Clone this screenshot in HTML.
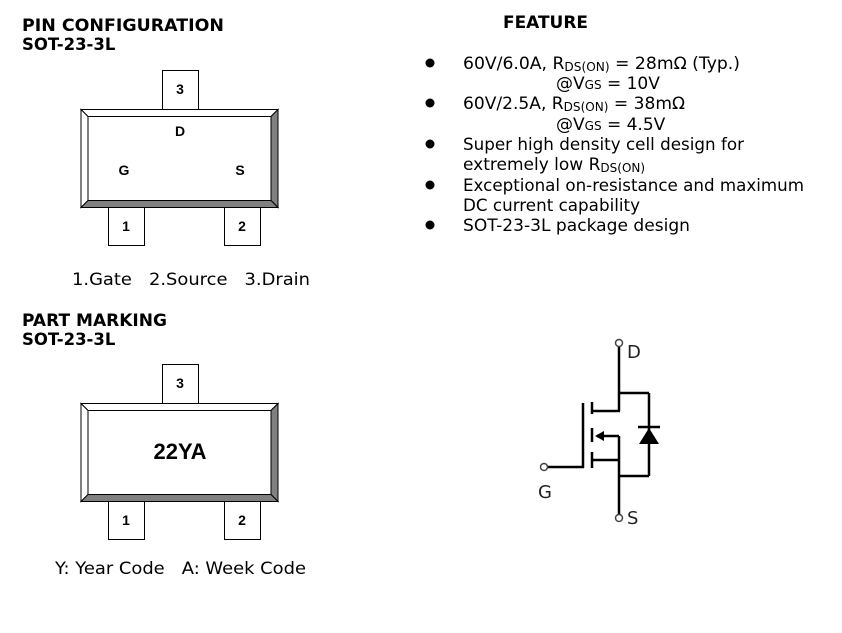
<!DOCTYPE html>
<html><head><meta charset="utf-8"><style>
html,body{margin:0;padding:0;background:#fff;width:842px;height:633px;overflow:hidden}
svg{display:block}
.h{font-family:"DejaVu Sans","Liberation Sans",sans-serif;font-weight:bold;font-size:16.5px;fill:#000}
.t{font-family:"DejaVu Sans","Liberation Sans",sans-serif;font-size:17px;fill:#000}
.a{font-family:"Liberation Sans",Arial,sans-serif;font-weight:bold;font-size:14px;fill:#000}
.sub{font-size:12px}
</style></head><body>
<svg width="842" height="633" viewBox="0 0 842 633" xmlns="http://www.w3.org/2000/svg">
<defs>
<g id="pkg">
  <rect x="162.5" y="-38.5" width="36" height="39" fill="#fff" stroke="#000"/>
  <rect x="108.5" y="98.5" width="36" height="38" fill="#fff" stroke="#000"/>
  <rect x="224.5" y="98.5" width="36" height="38" fill="#fff" stroke="#000"/>
  <polygon points="81,0.5 278,0.5 271,7.5 88,7.5" fill="#fff" stroke="#000" stroke-width="1"/>
  <polygon points="81,0.5 88,7.5 88,91.5 81,98.5" fill="#fff" stroke="#000" stroke-width="1"/>
  <polygon points="278,0.5 278,98.5 271,91.5 271,7.5" fill="#808080" stroke="#000" stroke-width="1"/>
  <polygon points="81,98.5 278,98.5 271,91.5 88,91.5" fill="#808080" stroke="#000" stroke-width="1"/>
  <rect x="88" y="7.5" width="183" height="84" fill="#fff" stroke="#000"/>
  <text class="a" x="180" y="-15" text-anchor="middle">3</text>
  <text class="a" x="126" y="122" text-anchor="middle">1</text>
  <text class="a" x="242" y="122" text-anchor="middle">2</text>
</g>
</defs>

<text class="h" x="22" y="31" textLength="202" lengthAdjust="spacingAndGlyphs">PIN CONFIGURATION</text>
<text class="h" x="22" y="50">SOT-23-3L</text>
<g transform="translate(0,109)">
  <use href="#pkg"/>
  <text class="a" x="180" y="27" text-anchor="middle">D</text>
  <text class="a" x="124" y="66" text-anchor="middle">G</text>
  <text class="a" x="240" y="66" text-anchor="middle">S</text>
</g>
<text class="t" x="72" y="285" textLength="238" lengthAdjust="spacingAndGlyphs">1.Gate&#160;&#160;&#160;2.Source&#160;&#160;&#160;3.Drain</text>

<text class="h" x="22" y="326" textLength="145" lengthAdjust="spacingAndGlyphs">PART MARKING</text>
<text class="h" x="22" y="345">SOT-23-3L</text>
<g transform="translate(0,403)">
  <use href="#pkg"/>
  <text x="180" y="56" text-anchor="middle" style="font-family:'Liberation Sans',Arial,sans-serif;font-weight:bold;font-size:22px">22YA</text>
</g>
<text class="t" x="55" y="574" textLength="251" lengthAdjust="spacingAndGlyphs">Y: Year Code&#160;&#160;&#160;A: Week Code</text>

<text class="h" x="503" y="28" textLength="85" lengthAdjust="spacingAndGlyphs">FEATURE</text>
<g fill="#000">
<circle cx="430" cy="63" r="4.5"/><circle cx="430" cy="103" r="4.5"/>
<circle cx="430" cy="144" r="4.5"/><circle cx="430" cy="185" r="4.5"/><circle cx="430" cy="225" r="4.5"/>
</g>
<text class="t" x="463" y="69" textLength="277" lengthAdjust="spacingAndGlyphs">60V/6.0A, R<tspan class="sub" dy="2">DS(ON)</tspan><tspan dy="-2"> = 28mΩ (Typ.)</tspan></text>
<text class="t" x="556" y="89">@V<tspan class="sub">GS</tspan> = 10V</text>
<text class="t" x="463" y="109" textLength="222" lengthAdjust="spacingAndGlyphs">60V/2.5A, R<tspan class="sub" dy="2">DS(ON)</tspan><tspan dy="-2"> = 38mΩ</tspan></text>
<text class="t" x="556" y="130">@V<tspan class="sub">GS</tspan> = 4.5V</text>
<text class="t" x="463" y="150" textLength="281" lengthAdjust="spacingAndGlyphs">Super high density cell design for</text>
<text class="t" x="463" y="170">extremely low R<tspan class="sub" dy="2">DS(ON)</tspan></text>
<text class="t" x="463" y="191" textLength="341" lengthAdjust="spacingAndGlyphs">Exceptional on-resistance and maximum</text>
<text class="t" x="463" y="211" textLength="177" lengthAdjust="spacingAndGlyphs">DC current capability</text>
<text class="t" x="463" y="231" textLength="227" lengthAdjust="spacingAndGlyphs">SOT-23-3L package design</text>

<g stroke="#000" stroke-width="2.5" fill="none">
  <line x1="619" y1="347" x2="619" y2="411"/>
  <line x1="619" y1="393" x2="649" y2="393"/>
  <line x1="649" y1="393" x2="649" y2="476"/>
  <line x1="619" y1="476" x2="649" y2="476"/>
  <line x1="592" y1="411" x2="620" y2="411"/>
  <line x1="597" y1="436" x2="619" y2="436"/>
  <line x1="619" y1="436" x2="619" y2="514"/>
  <line x1="592" y1="460" x2="620" y2="460"/>
  <line x1="583" y1="403" x2="583" y2="468"/>
  <line x1="548" y1="467" x2="584" y2="467"/>
  <line x1="592" y1="402" x2="592" y2="414"/>
  <line x1="592" y1="428" x2="592" y2="442"/>
  <line x1="592" y1="452" x2="592" y2="468"/>
  <line x1="638" y1="427" x2="660" y2="427"/>
</g>
<polygon points="595,436 604,431 604,441" fill="#000"/>
<polygon points="649,428 639,444 659,444" fill="#000"/>
<g stroke="#444" stroke-width="1.5" fill="#fff">
  <circle cx="619" cy="343" r="3.5"/>
  <circle cx="619" cy="518" r="3.5"/>
  <circle cx="544" cy="467" r="3.5"/>
</g>
<text x="627" y="358" style="font-family:'DejaVu Sans',sans-serif;font-size:18px" fill="#222">D</text>
<text x="538" y="498" style="font-family:'DejaVu Sans',sans-serif;font-size:18px" fill="#222">G</text>
<text x="627" y="524" style="font-family:'DejaVu Sans',sans-serif;font-size:18px" fill="#222">S</text>
</svg>
</body></html>
